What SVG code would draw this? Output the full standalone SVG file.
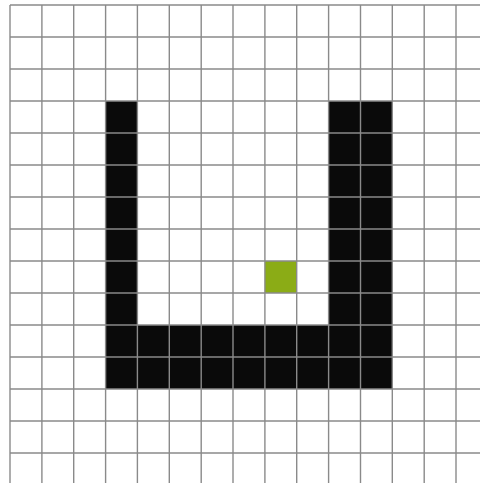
<svg xmlns="http://www.w3.org/2000/svg" width="480" height="483" viewBox="0 0 480 483">
<style>
.blk{fill:#0a0a0a}
.grn{fill:#8bac16}
.g line{stroke:#8a8a8a;stroke-width:1.4}
</style>
<rect width="480" height="483" fill="#ffffff"/>
<g id="cells">
<rect class="blk" x="105.6" y="101" width="32" height="288"/>
<rect class="blk" x="105.6" y="325" width="286.7" height="64"/>
<rect class="blk" x="328.6" y="101" width="63.7" height="288"/>
<rect class="grn" x="264.9" y="261" width="31.9" height="32"/>
</g>
<g class="g" id="grid">
<line x1="10" y1="5" x2="10" y2="483"/>
<line x1="41.9" y1="5" x2="41.9" y2="483"/>
<line x1="73.7" y1="5" x2="73.7" y2="483"/>
<line x1="105.6" y1="5" x2="105.6" y2="483"/>
<line x1="137.4" y1="5" x2="137.4" y2="483"/>
<line x1="169.3" y1="5" x2="169.3" y2="483"/>
<line x1="201.2" y1="5" x2="201.2" y2="483"/>
<line x1="233" y1="5" x2="233" y2="483"/>
<line x1="264.9" y1="5" x2="264.9" y2="483"/>
<line x1="296.7" y1="5" x2="296.7" y2="483"/>
<line x1="328.6" y1="5" x2="328.6" y2="483"/>
<line x1="360.5" y1="5" x2="360.5" y2="483"/>
<line x1="392.3" y1="5" x2="392.3" y2="483"/>
<line x1="424.2" y1="5" x2="424.2" y2="483"/>
<line x1="456" y1="5" x2="456" y2="483"/>
<line x1="10" y1="5" x2="480" y2="5"/>
<line x1="10" y1="37" x2="480" y2="37"/>
<line x1="10" y1="69" x2="480" y2="69"/>
<line x1="10" y1="101" x2="480" y2="101"/>
<line x1="10" y1="133" x2="480" y2="133"/>
<line x1="10" y1="165" x2="480" y2="165"/>
<line x1="10" y1="197" x2="480" y2="197"/>
<line x1="10" y1="229" x2="480" y2="229"/>
<line x1="10" y1="261" x2="480" y2="261"/>
<line x1="10" y1="293" x2="480" y2="293"/>
<line x1="10" y1="325" x2="480" y2="325"/>
<line x1="10" y1="357" x2="480" y2="357"/>
<line x1="10" y1="389" x2="480" y2="389"/>
<line x1="10" y1="421" x2="480" y2="421"/>
<line x1="10" y1="453" x2="480" y2="453"/>
</g>
</svg>
